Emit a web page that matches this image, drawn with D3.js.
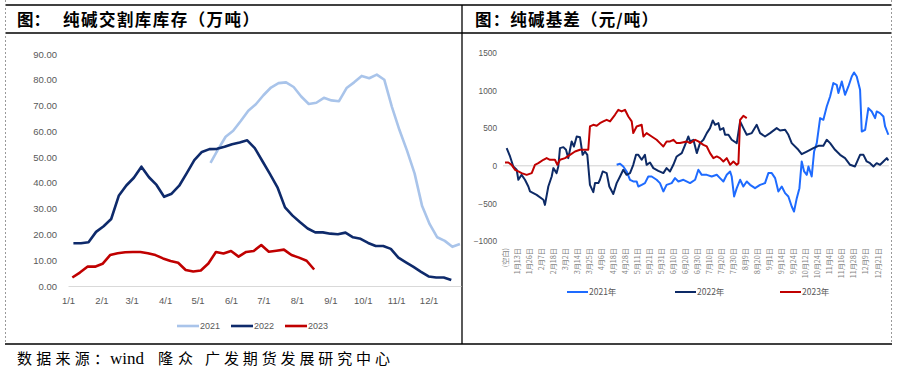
<!DOCTYPE html>
<html>
<head>
<meta charset="utf-8">
<script src="https://cdn.jsdelivr.net/npm/d3@7"></script>
<style>
body{margin:0;background:#fff;}
text{font-family:"Liberation Sans",Arial,sans-serif;}
.cjk{font-family:"Noto Sans CJK SC",sans-serif;}
</style>
</head>
<body>
<script>
// ---- left: 纯碱交割库库存（万吨），weekly, plotted on one calendar year
var stockYears = ["2021","2022","2023"];
var stockColors = ["#a9c4ea","#0e2a6b","#c00000"];
var stockStart = ["05-13","01-06","01-05"];
var stock2021 = [47.8,53.0,57.9,60.2,64.0,68.0,70.5,74.0,77.0,78.7,79.0,77.2,73.5,70.6,71.1,73.0,72.0,71.7,76.8,79.0,81.5,80.6,82.0,80.0,69.5,60.5,52.5,43.7,31.0,24.0,18.9,17.5,15.2,16.3];
var stock2022 = [16.6,16.6,17.0,21.0,23.2,26.0,35.0,39.0,42.0,46.3,42.2,39.2,34.6,35.8,38.9,43.8,48.8,52.0,53.1,53.2,54.0,55.0,55.7,56.5,53.5,48.5,43.5,38.3,30.5,27.3,24.7,22.3,20.8,20.8,20.3,20.1,20.7,18.9,18.3,16.7,15.5,15.5,14.4,11.0,9.2,7.4,5.5,3.7,3.3,3.3,2.3];
var stock2023 = [3.3,5.2,7.5,7.5,8.6,12.0,12.7,13.1,13.2,13.2,12.7,12.0,10.7,9.7,9.0,6.2,5.6,6.0,8.7,13.2,12.6,13.6,11.4,13.2,13.6,15.9,13.3,13.7,14.1,12.0,11.0,9.8,6.4];
var stockTicks = [0,10,20,30,40,50,60,70,80,90];

// ---- right: 纯碱基差（元/吨）, x = position on the category axis
var basisNames = ["2021年","2022年","2023年"];
var basisColors = ["#1e6bff","#0d2a66","#c00000"];
var basisLabels = ["(空白)","1月13日","1月26日","2月7日","2月18日","3月2日","3月14日","3月25日","4月6日","4月18日","4月28日","5月11日","5月21日","5月31日","6月10日","6月20日","6月30日","7月10日","7月20日","7月30日","8月9日","8月20日","9月1日","9月14日","9月24日","10月12日","10月24日","11月4日","11月16日","11月28日","12月9日","12月21日"];
var basisTicks = [-1000,-500,0,500,1000,1500];
var basis2021 = [[9.28,13],[9.56,27],[9.83,-9],[10.11,-75],[10.39,-186],[10.66,-208],[10.94,-208],[11.08,-275],[11.36,-253],[11.63,-230],[11.91,-142],[12.19,-142],[12.60,-186],[12.88,-230],[13.16,-341],[13.43,-253],[13.85,-230],[14.13,-164],[14.41,-208],[14.83,-186],[15.38,-230],[15.80,-186],[16.07,-53],[16.35,-120],[16.77,-120],[17.18,-142],[17.60,-120],[17.87,-164],[18.15,-208],[18.43,-120],[18.71,-75],[18.84,-142],[19.04,-408],[19.26,-297],[19.54,-186],[19.81,-275],[20.09,-208],[20.37,-253],[20.78,-297],[21.20,-253],[21.61,-230],[21.89,-97],[22.17,-97],[22.45,-164],[22.72,-341],[23.00,-275],[23.28,-363],[23.55,-408],[23.83,-541],[24.02,-608],[24.25,-430],[24.47,-297],[24.66,58],[24.86,-75],[25.08,-120],[25.22,-9],[25.49,-142],[25.69,190],[25.91,302],[26.19,634],[26.46,612],[26.74,789],[27.02,922],[27.29,1100],[27.57,1077],[27.71,967],[27.99,1121],[28.26,944],[28.54,1055],[28.82,1188],[29.01,1241],[29.23,1188],[29.51,1011],[29.65,456],[29.93,479],[30.20,767],[30.48,723],[30.76,634],[30.89,723],[31.17,701],[31.45,656],[31.59,523],[31.86,413]];
var basis2022 = [[0.14,235],[0.42,124],[0.69,-10],[0.97,-53],[1.11,-186],[1.38,-120],[1.66,-186],[1.94,-275],[2.08,-340],[2.63,-386],[3.19,-452],[3.32,-520],[3.60,-275],[3.88,-142],[4.02,-31],[4.29,-97],[4.43,-9],[4.57,235],[4.85,248],[5.07,213],[5.26,102],[5.54,324],[5.73,257],[5.96,390],[6.23,381],[6.45,146],[6.65,190],[6.84,146],[7.06,-253],[7.34,-350],[7.48,-230],[7.76,-230],[7.89,-186],[8.12,-75],[8.45,-97],[8.67,-275],[9.00,-375],[9.28,-230],[9.56,-142],[9.83,-53],[10.11,-120],[10.39,-97],[10.66,13],[10.89,146],[11.08,146],[11.36,80],[11.63,146],[11.77,13],[12.05,44],[12.33,-31],[12.74,-67],[13.16,-97],[13.43,-31],[13.71,-75],[13.99,13],[14.27,124],[14.69,169],[14.97,279],[15.24,390],[15.38,324],[15.66,346],[15.94,169],[16.21,302],[16.49,346],[16.77,435],[17.04,501],[17.27,603],[17.46,545],[17.74,567],[17.87,479],[18.15,501],[18.29,412],[18.57,412],[18.84,346],[19.26,302],[19.54,590],[19.81,501],[20.09,412],[20.51,435],[20.92,545],[21.20,435],[21.61,390],[22.03,435],[22.58,501],[22.86,470],[23.28,479],[23.55,412],[23.83,302],[24.38,213],[24.66,155],[25.08,190],[25.63,235],[26.05,266],[26.46,266],[26.74,346],[27.02,302],[27.43,213],[27.85,146],[28.26,102],[28.68,13],[29.09,-9],[29.51,146],[29.79,146],[30.06,58],[30.34,35],[30.62,-9],[30.89,35],[31.17,13],[31.45,58],[31.73,102],[31.86,71]];
var basis2023 = [[0.00,44],[0.28,44],[0.55,13],[0.83,-53],[1.11,-75],[1.38,-97],[1.80,-120],[2.22,-97],[2.49,13],[2.77,35],[3.19,80],[3.46,102],[3.74,80],[4.15,80],[4.35,13],[4.57,80],[4.99,102],[5.40,146],[5.82,190],[6.23,213],[6.65,213],[6.92,213],[7.06,523],[7.34,545],[7.62,532],[7.89,567],[8.17,590],[8.45,612],[8.73,590],[9.14,678],[9.42,745],[9.69,723],[9.97,745],[10.25,656],[10.53,590],[10.66,435],[10.94,523],[11.36,545],[11.50,390],[11.77,435],[12.19,390],[12.60,346],[12.88,302],[13.16,257],[13.43,324],[13.72,324],[13.99,346],[14.27,302],[14.55,302],[15.10,324],[15.38,302],[15.80,346],[16.07,324],[16.49,279],[16.77,257],[17.04,169],[17.32,102],[17.60,124],[17.87,102],[18.15,58],[18.43,102],[18.71,13],[18.98,58],[19.26,13],[19.40,35],[19.54,612],[19.81,665],[20.09,634]];

var width = 899, height = 372;
var svg = d3.select("body").append("svg")
  .attr("width", width)
  .attr("height", height);

// frame
var frame = svg.append("g").attr("stroke", "#000").attr("stroke-width", 1.3);
[5, 33, 344].forEach(function(y){
  frame.append("line").attr("x1", 5).attr("x2", 892).attr("y1", y).attr("y2", y);
});
frame.append("line").attr("x1", 462).attr("x2", 462).attr("y1", 5).attr("y2", 344);
[5.5, 891.5].forEach(function(x){
  svg.append("line").attr("x1", x).attr("x2", x).attr("y1", 0).attr("y2", 344)
    .attr("stroke", "#9a9a9a").attr("stroke-dasharray", "2,2");
});

// titles + source
function title(x, y, s, size, weight, len){
  var t = svg.append("text").attr("class", "cjk")
    .attr("x", x).attr("y", y)
    .attr("font-size", size).attr("font-weight", weight)
    .attr("fill", "#000").text(s);
  if (len) t.attr("textLength", len).attr("lengthAdjust", "spacing");
  return t;
}
title(17, 26, "图：", 16.5, 700);
title(63, 26, "纯碱交割库库存（万吨）", 16.5, 700, 196);
title(475, 26, "图：纯碱基差（元/吨）", 16.5, 700, 183);
title(17, 364, "数据来源：", 15, 400, 92);
svg.append("text").attr("x", 110).attr("y", 364)
  .style("font-family", "'Liberation Serif', serif").attr("font-size", 17).text("wind");
title(158, 364, "隆众", 15, 400, 35);
title(205, 364, "广发期货发展研究中心", 15, 400, 185);

// ---- left chart
var parseMD = d3.timeParse("%Y-%m-%d");
var xL = d3.scaleTime()
  .domain([parseMD("2021-01-01"), parseMD("2021-12-31")])
  .range([68, 461]);
var yL = d3.scaleLinear().domain([0, 90]).range([286, 54]);

var yAxisL = svg.append("g").attr("transform", "translate(68,0)")
  .call(d3.axisLeft(yL).tickValues(stockTicks).tickFormat(d3.format(".2f")).tickSize(0).tickPadding(11));
yAxisL.select(".domain").remove();

var months = d3.timeMonths(parseMD("2021-01-01"), parseMD("2021-12-31"));
var xAxisL = svg.append("g").attr("transform", "translate(0,286)")
  .call(d3.axisBottom(xL).tickValues(months).tickFormat(function(d){ return (d.getMonth() + 1) + "/1"; })
    .tickSize(0).tickSizeOuter(0).tickPadding(11));
xAxisL.select(".domain").attr("stroke", "#d9d9d9");

[yAxisL, xAxisL].forEach(function(a){
  a.selectAll("text").attr("fill", "#595959").attr("font-size", 9.5)
    .style("font-family", "'Liberation Sans', sans-serif");
});

var stockData = [stock2021, stock2022, stock2023];
var lineL = d3.line()
  .x(function(d){ return xL(d.date); })
  .y(function(d){ return yL(d.value); });

stockData.forEach(function(vals, i){
  var start = parseMD("2021-" + stockStart[i]);
  var pts = vals.map(function(v, k){ return {date: d3.timeDay.offset(start, 7 * k), value: v}; });
  svg.append("path").datum(pts)
    .attr("d", lineL)
    .attr("fill", "none")
    .attr("stroke", stockColors[i])
    .attr("stroke-width", 2.6)
    .attr("stroke-linejoin", "round");
});

// left legend
var legL = svg.append("g").attr("transform", "translate(177,326)");
stockYears.forEach(function(name, i){
  var g = legL.append("g").attr("transform", "translate(" + (i * 54) + ",0)");
  g.append("line").attr("x1", 0).attr("x2", 22).attr("stroke", stockColors[i]).attr("stroke-width", 2.6);
  g.append("text").attr("x", 23).attr("y", 3.3).attr("font-size", 9).attr("fill", "#595959").text(name);
});

// ---- right chart
var xR = d3.scaleLinear().domain([0, 31]).range([505, 878]);
var yR = d3.scaleLinear().domain([-1000, 1500]).range([241, 53]);

var yAxisR = svg.append("g").attr("transform", "translate(503,0)")
  .call(d3.axisLeft(yR).tickValues(basisTicks).tickFormat(d3.format("d")).tickSize(0).tickPadding(6));
yAxisR.select(".domain").remove();
yAxisR.selectAll("text").attr("fill", "#595959").attr("font-size", 8.3);

svg.append("line")
  .attr("x1", xR(-0.17)).attr("x2", xR(31.9))
  .attr("y1", yR(0)).attr("y2", yR(0))
  .attr("stroke", "#d0d0d0");

svg.append("g").selectAll("text")
  .data(basisLabels)
  .enter()
  .append("text")
  .attr("class", "cjk")
  .attr("transform", function(d, i){ return "translate(" + (xR(i) + 2.5) + ",248) rotate(-90)"; })
  .attr("text-anchor", "end")
  .attr("font-size", 7.2)
  .attr("fill", "#7f7f7f")
  .text(function(d){ return d; });

var lineR = d3.line()
  .x(function(d){ return xR(d[0]); })
  .y(function(d){ return yR(d[1]); });

[basis2021, basis2022, basis2023].forEach(function(pts, i){
  svg.append("path").datum(pts)
    .attr("d", lineR)
    .attr("fill", "none")
    .attr("stroke", basisColors[i])
    .attr("stroke-width", 2)
    .attr("stroke-linejoin", "round");
});

// right legend
var legX = [567, 675, 780];
basisNames.forEach(function(name, i){
  var g = svg.append("g").attr("transform", "translate(" + legX[i] + ",292)");
  g.append("line").attr("x1", 0).attr("x2", 21).attr("stroke", basisColors[i]).attr("stroke-width", 2);
  g.append("text").attr("class", "cjk").attr("x", 22).attr("y", 3.2)
    .attr("font-size", 8.5).attr("fill", "#595959").text(name);
});
</script>
</body>
</html>
